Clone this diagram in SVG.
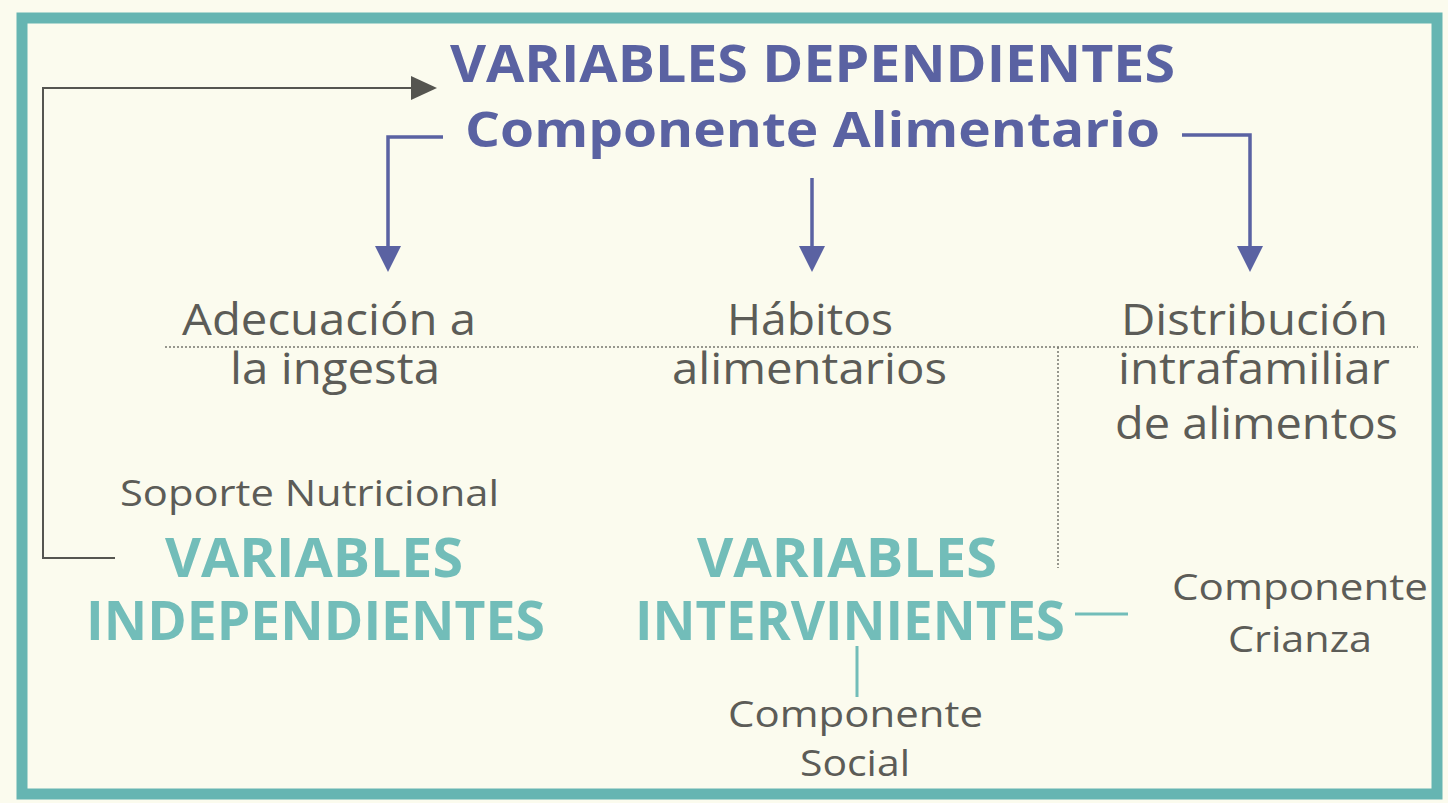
<svg xmlns="http://www.w3.org/2000/svg" width="1448" height="803" viewBox="0 0 1448 803">
<defs>
<style>
.blue{font-family:"Open Sans","Noto Sans",sans-serif;font-weight:bold;fill:#5a62a2}
.teal{font-family:"Open Sans","Noto Sans",sans-serif;font-weight:bold;fill:#72bdb9}
.gray{font-family:"Open Sans","Noto Sans",sans-serif;fill:#5c5c57}
.bl{fill:none;stroke:#5a62a2;stroke-width:3.5}
.gl{fill:none;stroke:#555550;stroke-width:2}
.dot{fill:none;stroke:#77776f;stroke-width:1.5;stroke-dasharray:2 2}
.tl{fill:none;stroke:#72bdb9;stroke-width:3}
</style>
</defs>
<rect x="0" y="0" width="1448" height="803" fill="#fbfbee"/>
<rect x="22" y="18" width="1415" height="776" fill="none" stroke="#66b5b2" stroke-width="11"/>
<g id="connectors">
<polyline class="gl" points="115,558 43,558 43,88 411,88"/>
<path d="M411,76 L437,88 L411,100 Z" fill="#555550"/>
<polyline class="bl" points="443,137 388,137 388,248"/>
<path d="M375,246 L388,272 L401,246 Z" fill="#5a62a2"/>
<line class="bl" x1="812" y1="178" x2="812" y2="248"/>
<path d="M799,246 L812,272 L825,246 Z" fill="#5a62a2"/>
<polyline class="bl" points="1182,135 1250,135 1250,248"/>
<path d="M1237,246 L1250,272 L1263,246 Z" fill="#5a62a2"/>
<line class="dot" x1="165" y1="347" x2="1418" y2="347"/>
<line class="dot" x1="1058" y1="347" x2="1058" y2="568"/>
<line class="tl" x1="1075" y1="614" x2="1128" y2="614"/>
<line class="tl" x1="857" y1="646" x2="857" y2="697"/>
</g>
<g id="dependientes">
<text class="blue" x="450" y="82" font-size="52" textLength="725" lengthAdjust="spacingAndGlyphs">VARIABLES DEPENDIENTES</text>
<text class="blue" x="465" y="147" font-size="48" textLength="695" lengthAdjust="spacingAndGlyphs">Componente Alimentario</text>
</g>
<g id="adecuacion">
<text class="gray" x="182" y="335" font-size="43" textLength="294" lengthAdjust="spacingAndGlyphs">Adecuación a</text>
<text class="gray" x="230" y="384" font-size="43" textLength="210" lengthAdjust="spacingAndGlyphs">la ingesta</text>
</g>
<g id="habitos">
<text class="gray" x="727" y="335" font-size="43" textLength="166" lengthAdjust="spacingAndGlyphs">Hábitos</text>
<text class="gray" x="672" y="384" font-size="43" textLength="275" lengthAdjust="spacingAndGlyphs">alimentarios</text>
</g>
<g id="distribucion">
<text class="gray" x="1121" y="335" font-size="43" textLength="267" lengthAdjust="spacingAndGlyphs">Distribución</text>
<text class="gray" x="1118" y="384" font-size="43" textLength="272" lengthAdjust="spacingAndGlyphs">intrafamiliar</text>
<text class="gray" x="1115" y="439" font-size="43" textLength="283" lengthAdjust="spacingAndGlyphs">de alimentos</text>
</g>
<g id="independientes">
<text class="gray" x="120" y="506" font-size="36" textLength="379" lengthAdjust="spacingAndGlyphs">Soporte Nutricional</text>
<text class="teal" x="165" y="577" font-size="54" textLength="298" lengthAdjust="spacingAndGlyphs">VARIABLES</text>
<text class="teal" x="86" y="640" font-size="54" textLength="459" lengthAdjust="spacingAndGlyphs">INDEPENDIENTES</text>
</g>
<g id="intervinientes">
<text class="teal" x="697" y="577" font-size="54" textLength="300" lengthAdjust="spacingAndGlyphs">VARIABLES</text>
<text class="teal" x="635" y="640" font-size="54" textLength="430" lengthAdjust="spacingAndGlyphs">INTERVINIENTES</text>
</g>
<g id="crianza">
<text class="gray" x="1172" y="600" font-size="37" textLength="256" lengthAdjust="spacingAndGlyphs">Componente</text>
<text class="gray" x="1228" y="652" font-size="37" textLength="144" lengthAdjust="spacingAndGlyphs">Crianza</text>
</g>
<g id="social">
<text class="gray" x="728" y="727" font-size="37" textLength="255" lengthAdjust="spacingAndGlyphs">Componente</text>
<text class="gray" x="800" y="776" font-size="37" textLength="110" lengthAdjust="spacingAndGlyphs">Social</text>
</g>
</svg>
